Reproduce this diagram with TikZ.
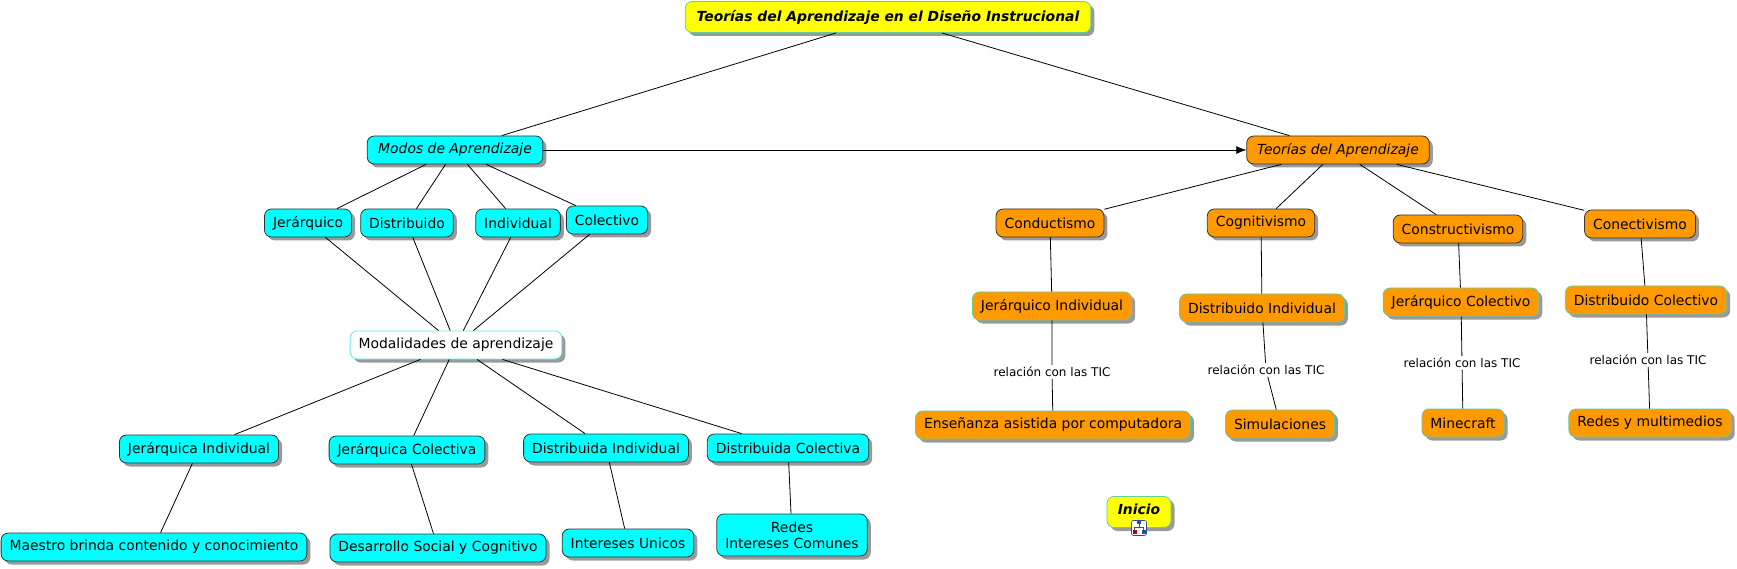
\documentclass[tikz,border=0pt]{standalone}
\usepackage{fontspec}
\setmainfont{DejaVu Sans}
\usetikzlibrary{shadows,arrows.meta}
\definecolor{cmcyan}{HTML}{00FFFF}
\definecolor{cmorange}{HTML}{FF9900}
\definecolor{cmyellow}{HTML}{FFFF00}
\definecolor{cmedge}{HTML}{333333}
\definecolor{cmgreen}{HTML}{66CC99}
\definecolor{cmlight}{HTML}{66E6E6}
\definecolor{cmshadow}{HTML}{9A9A9A}
\definecolor{cmicon}{HTML}{2A4FA8}
\begin{document}
\begin{tikzpicture}[x=1pt,y=-1pt,line width=0.8pt,
    concept/.style={rounded corners=7pt,minimum height=28pt,inner xsep=8.5pt,font=\fontsize{13.9}{16}\selectfont,
      drop shadow={shadow xshift=3.5pt,shadow yshift=-3.5pt,fill=cmshadow,opacity=1}},
    modo/.style={concept,draw=cmedge,fill=cmcyan},
    teoria/.style={concept,draw=cmedge,fill=cmorange},
    tema/.style={concept,draw=cmgreen,fill=cmorange},
    titulo/.style={concept,draw=cmgreen,fill=cmyellow,font=\fontsize{13.9}{16}\selectfont\bfseries\itshape},
    rel/.style={font=\fontsize{12}{14}\selectfont,inner sep=1.5pt}]
  \fill[white] (0,0) rectangle (1737,569);
  \useasboundingbox (0,0) rectangle (1737,569);

  \node[titulo,minimum height=31pt,inner xsep=11.5pt] (titulo) at (888,17) {Teorías del Aprendizaje en el Diseño Instrucional};
  \node[modo,inner xsep=11pt,font=\fontsize{13.9}{16}\selectfont\itshape] (modos) at (455,150) {Modos de Aprendizaje};
  \node[teoria,inner xsep=10.5pt,font=\fontsize{13.9}{16}\selectfont\itshape] (teorias) at (1338,150) {Teorías del Aprendizaje};

  % modos
  \node[modo] (jer) at (308,223) {Jerárquico};
  \node[modo] (dis) at (407,223) {Distribuido};
  \node[modo] (ind) at (518,223) {Individual};
  \node[modo] (col) at (607,220) {Colectivo};
  \node[concept,draw=cmlight,fill=white] (modal) at (456,345) {Modalidades de aprendizaje};

  \node[modo] (jind) at (199,449) {Jerárquica Individual};
  \node[modo] (jcol) at (407,450) {Jerárquica Colectiva};
  \node[modo] (dind) at (606,448) {Distribuida Individual};
  \node[modo] (dcol) at (788,448) {Distribuida Colectiva};
  \node[modo] (maestro) at (154,547) {Maestro brinda contenido y conocimiento};
  \node[modo] (desarrollo) at (438,548) {Desarrollo Social y Cognitivo};
  \node[modo] (unicos) at (628,543) {Intereses Unicos};
  \node[modo,align=center,minimum height=42pt] (comunes) at (792,535) {Redes\\Intereses Comunes};

  % teorias
  \node[teoria] (conduct) at (1050,223) {Conductismo};
  \node[teoria] (cognit) at (1261,223) {Cognitivismo};
  \node[teoria] (construct) at (1458,229) {Constructivismo};
  \node[teoria] (conect) at (1640,224) {Conectivismo};
  \node[tema] (jerI) at (1052,306) {Jerárquico Individual};
  \node[tema] (disI) at (1262,308) {Distribuido Individual};
  \node[tema] (jerC) at (1461,302) {Jerárquico Colectivo};
  \node[tema] (disC) at (1646,300) {Distribuido Colectivo};
  \node[rel] (rel1) at (1052,372) {relación con las TIC};
  \node[rel] (rel2) at (1266,370) {relación con las TIC};
  \node[rel] (rel3) at (1462,363) {relación con las TIC};
  \node[rel] (rel4) at (1648,360) {relación con las TIC};
  \node[tema] (ensen) at (1053,425) {Enseñanza asistida por computadora};
  \node[tema] (simul) at (1280,424) {Simulaciones};
  \node[tema] (mine) at (1463,423) {Minecraft};
  \node[tema] (redesm) at (1650,423) {Redes y multimedios};

  \node[titulo,minimum width=64pt,minimum height=31pt,text depth=6pt] (inicio) at (1139,512) {Inicio};
  \node[draw=cmicon,fill=white,rounded corners=2pt,minimum size=15pt,inner sep=0pt,line width=0.6pt] (icono) at (1139,528) {};
  \fill[cmicon] (1137,521) rectangle (1141,524);
  \draw[cmicon,line width=0.6pt] (1139,524) -- (1139,527) (1134.5,527) -- (1143.5,527) (1134.5,527) -- (1134.5,530) (1143.5,527) -- (1143.5,530);
  \fill[red!75!black] (1132.5,530) rectangle (1136.5,534);
  \fill[cmicon] (1141.5,530) rectangle (1145.5,534);

  \draw (titulo) -- (modos);
  \draw (titulo) -- (teorias);
  \draw[-{Latex[length=10pt,width=8pt]}] (modos) -- (teorias);

  \foreach \m in {jer,dis,ind,col} {
    \draw (modos) -- (\m);
    \draw (\m) -- (modal);
  }
  \foreach \m/\d in {jind/maestro,jcol/desarrollo,dind/unicos,dcol/comunes} {
    \draw (modal) -- (\m);
    \draw (\m) -- (\d);
  }
  \foreach \t/\s/\r/\e in {conduct/jerI/rel1/ensen,cognit/disI/rel2/simul,construct/jerC/rel3/mine,conect/disC/rel4/redesm} {
    \draw (teorias) -- (\t);
    \draw (\t) -- (\s);
    \draw (\s) -- (\r) -- (\e);
  }
\end{tikzpicture}
\end{document}
